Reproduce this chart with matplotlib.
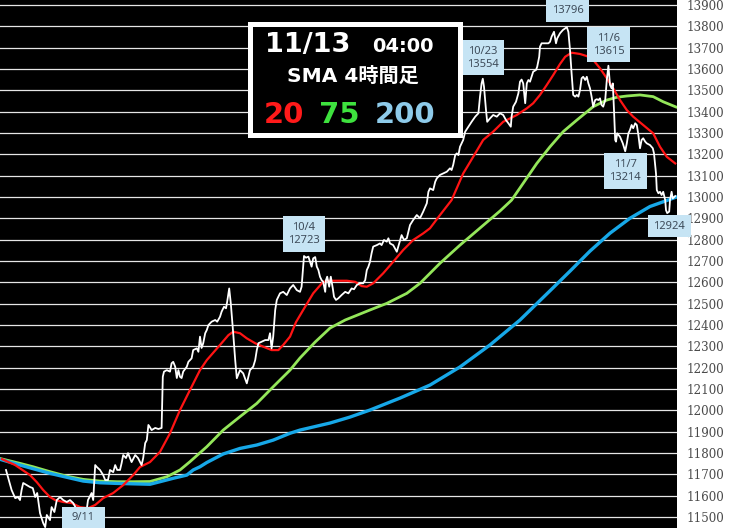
import matplotlib
matplotlib.use('Agg')
import matplotlib.pyplot as plt
from matplotlib.patches import Rectangle

# x = hours since the start of the window (4h bars), y = price
price_t = [15, 29, 38, 45, 50, 54, 58, 67, 75, 82,
           88, 93, 100, 108, 113, 117, 125, 129, 136, 142,
           150, 158, 167, 175, 183, 195, 208, 215, 220, 229,
           233, 238, 242, 250, 258, 263, 270, 275, 283, 288,
           293, 300, 304, 308, 315, 320, 329, 338, 345, 354,
           358, 363, 367, 371, 375, 379, 388, 396, 404, 407,
           410, 417, 425, 429, 433, 438, 442, 446, 450, 454,
           458, 467, 471, 479, 483, 492, 496, 500, 504, 508,
           513, 517, 521, 529, 538, 543, 550, 554, 560, 565,
           568, 573, 577, 583, 588, 592, 600, 608, 617, 625,
           633, 638, 642, 646, 654, 663, 671, 675, 679, 683,
           688, 692, 700, 708, 717, 725, 733, 742, 750, 754,
           760, 765, 771, 775, 779, 783, 788, 792, 796, 800,
           804, 808, 813, 815, 818, 823, 827, 832, 835, 840,
           846, 854, 863, 871, 879, 885, 892, 900, 908, 913,
           917, 921, 925, 929, 933, 942, 950, 954, 960, 967,
           971, 975, 983, 992, 998, 1004, 1010, 1017, 1025, 1033,
           1042, 1050, 1058, 1067, 1071, 1075, 1083, 1088, 1092, 1100,
           1108, 1117, 1125, 1129, 1133, 1138, 1142, 1146, 1150, 1158,
           1163, 1171, 1179, 1188, 1196, 1200, 1204, 1207, 1210, 1215,
           1218, 1225, 1233, 1242, 1250, 1258, 1265, 1271, 1277, 1279,
           1283, 1290, 1296, 1300, 1304, 1308, 1313, 1317, 1321, 1325,
           1329, 1333, 1340, 1343, 1348, 1350, 1354, 1363, 1371, 1375,
           1379, 1385, 1390, 1393, 1400, 1407, 1413, 1417, 1421, 1425,
           1429, 1433, 1438, 1442, 1446, 1450, 1454, 1458, 1463, 1467,
           1471, 1475, 1479, 1483, 1488, 1492, 1496, 1500, 1504, 1508,
           1513, 1517, 1521, 1525, 1529, 1532, 1535, 1538, 1540, 1543,
           1550, 1557, 1563, 1567, 1571, 1575, 1579, 1583, 1588, 1592,
           1596, 1600, 1604, 1608, 1613, 1617, 1625, 1632, 1635, 1640,
           1642, 1646, 1650, 1654, 1658, 1663, 1665, 1668, 1673, 1675,
           1679, 1682, 1688]
price_v = [11720, 11626, 11588, 11593, 11579, 11626, 11659, 11649, 11640, 11635,
           11593, 11612, 11518, 11471, 11452, 11509, 11485, 11546, 11523, 11579,
           11593, 11579, 11570, 11579, 11565, 11523, 11476, 11509, 11579, 11612,
           11579, 11743, 11734, 11720, 11696, 11673, 11673, 11720, 11710, 11743,
           11720, 11720, 11752, 11790, 11776, 11799, 11757, 11790, 11776, 11743,
           11776, 11846, 11860, 11931, 11920, 11907, 11917, 11912, 11917, 12157,
           12181, 12188, 12181, 12220, 12227, 12204, 12151, 12188, 12157, 12151,
           12181, 12204, 12227, 12243, 12282, 12290, 12274, 12345, 12292, 12314,
           12361, 12376, 12399, 12415, 12423, 12415, 12438, 12462, 12485, 12478,
           12509, 12571, 12501, 12361, 12235, 12150, 12188, 12173, 12126, 12188,
           12204, 12235, 12282, 12314, 12321, 12329, 12329, 12361, 12290, 12345,
           12470, 12517, 12548, 12555, 12540, 12571, 12587, 12563, 12555, 12579,
           12723, 12715, 12720, 12696, 12673, 12712, 12718, 12673, 12657, 12626,
           12610, 12602, 12555, 12610, 12626, 12579, 12626, 12571, 12532, 12517,
           12525, 12540, 12555, 12548, 12571, 12567, 12587, 12595, 12595, 12610,
           12657, 12673, 12696, 12736, 12767, 12774, 12782, 12774, 12798, 12790,
           12806, 12782, 12774, 12743, 12782, 12821, 12798, 12806, 12868, 12892,
           12915, 12900, 12931, 12970, 13024, 13040, 13032, 13071, 13087, 13103,
           13110, 13118, 13134, 13126, 13150, 13196, 13204, 13196, 13235, 13267,
           13306, 13329, 13352, 13376, 13392, 13470, 13532, 13554, 13517, 13407,
           13352, 13368, 13384, 13376, 13392, 13384, 13360, 13345, 13329, 13376,
           13423, 13446, 13486, 13540, 13550, 13532, 13439, 13532, 13548, 13540,
           13563, 13587, 13595, 13610, 13657, 13704, 13720, 13720, 13720, 13727,
           13751, 13774, 13720, 13743, 13767, 13782, 13790, 13796, 13773, 13689,
           13579, 13478, 13470, 13478, 13470, 13501, 13556, 13563, 13548, 13563,
           13532, 13509, 13470, 13423, 13454, 13458, 13454, 13462, 13431, 13423,
           13454, 13548, 13615, 13525, 13509, 13532, 13407, 13267, 13259, 13298,
           13282, 13251, 13214, 13251, 13298, 13314, 13337, 13322, 13345, 13337,
           13290, 13228, 13267, 13275, 13259, 13251, 13243, 13228, 13204, 13110,
           13032, 13017, 13024, 13009, 13024, 12985, 12938, 12924, 12931, 12985,
           13024, 12993, 13004]

sma20_t = [5, 38, 75, 92, 108, 125, 138, 158, 179, 200,
           220, 238, 258, 283, 308, 333, 350, 375, 400, 425,
           450, 475, 500, 517, 550, 571, 583, 600, 617, 638,
           658, 679, 696, 708, 725, 740, 758, 783, 808, 825,
           867, 888, 904, 917, 933, 958, 983, 1008, 1033, 1058,
           1075, 1100, 1129, 1158, 1183, 1208, 1233, 1258, 1292, 1317,
           1333, 1350, 1367, 1383, 1400, 1413, 1429, 1450, 1467, 1483,
           1500, 1517, 1533, 1550, 1567, 1583, 1608, 1633, 1650, 1667,
           1688]
sma20_v = [11771, 11743, 11696, 11663, 11626, 11593, 11579, 11570, 11565, 11546,
           11541, 11556, 11588, 11612, 11649, 11696, 11734, 11757, 11805, 11892,
           12001, 12095, 12188, 12235, 12306, 12352, 12368, 12361, 12337, 12314,
           12298, 12282, 12282, 12306, 12345, 12413, 12470, 12548, 12602, 12607,
           12607, 12602, 12582, 12579, 12595, 12642, 12696, 12751, 12798, 12829,
           12853, 12915, 12985, 13110, 13188, 13267, 13306, 13352, 13384, 13415,
           13439, 13478, 13525, 13571, 13623, 13657, 13676, 13670, 13660, 13642,
           13603, 13556, 13509, 13454, 13407, 13376, 13337, 13298, 13235, 13188,
           13157]

sma75_t = [0, 50, 83, 125, 167, 208, 250, 292, 333, 375,
           417, 450, 475, 517, 558, 600, 642, 683, 725, 750,
           788, 825, 863, 900, 925, 967, 1017, 1050, 1075, 1100,
           1150, 1200, 1250, 1279, 1308, 1342, 1375, 1408, 1442, 1483,
           1517, 1542, 1567, 1600, 1633, 1658, 1692]
sma75_v = [11774, 11751, 11735, 11712, 11691, 11676, 11668, 11665, 11665, 11666,
           11688, 11720, 11759, 11829, 11907, 11970, 12032, 12110, 12188, 12245,
           12320, 12385, 12423, 12451, 12470, 12501, 12548, 12595, 12642, 12689,
           12774, 12854, 12934, 12985, 13064, 13157, 13235, 13306, 13360, 13423,
           13454, 13467, 13473, 13478, 13470, 13446, 13420]

sma200_t = [0, 50, 125, 208, 250, 292, 375, 400, 433, 467,
            483, 500, 517, 558, 600, 642, 683, 725, 750, 825,
            875, 925, 1000, 1075, 1150, 1225, 1300, 1375, 1425, 1475,
            1525, 1575, 1625, 1692]
sma200_v = [11770, 11743, 11704, 11668, 11660, 11657, 11653, 11665, 11681, 11696,
            11720, 11735, 11755, 11795, 11821, 11837, 11860, 11892, 11907, 11940,
            11968, 12001, 12057, 12118, 12203, 12306, 12423, 12560, 12652, 12746,
            12830, 12900, 12955, 13000]

y_ticks = list(range(11500, 14000, 100))

ann_labels = ["9/11\n11476", "10/4\n12723", "10/23\n13554", "11/1\n13796",
              "11/6\n13615", "11/7\n13214", "12924"]
ann_t = [208, 760, 1207, 1417, 1521, 1563, 1668]
ann_v = [11476, 12723, 13554, 13796, 13615, 13214, 12924]
ann_off = [(0, -4), (0, 22), (0, 21), (1, 23), (0, 21), (0, -20), (2, -13)]
ann_ls = [1.65, 1.3, 1.3, 1.3, 1.3, 1.3, 1.3]

W, H = 735, 528
fig = plt.figure(figsize=(W / 100, H / 100), dpi=100)
fig.patch.set_facecolor('white')
ax = fig.add_axes([0, 0, 677 / W, 1])
ax.set_facecolor('black')

ax.plot(sma75_t, sma75_v, color='#94e65a', lw=2.0, zorder=3, solid_capstyle='round')
ax.plot(sma200_t, sma200_v, color='#17a8e8', lw=2.4, zorder=4, solid_capstyle='round')
ax.plot(sma20_t, sma20_v, color='#ff1414', lw=1.6, zorder=5)
ax.plot(price_t, price_v, color='white', lw=1.3, zorder=6)

ax.set_xlim(0, 1692.5)
ax.set_ylim(11448, 13923)
ax.set_yticks(y_ticks)
ax.set_xticks([])
ax.set_axisbelow(True)
ax.grid(axis='y', color='#e6e6e6', lw=0.9)
ax.yaxis.tick_right()
ax.tick_params(axis='y', length=0, pad=7)
for lab in ax.get_yticklabels():
    lab.set_fontfamily('DejaVu Serif')
    lab.set_fontsize(8.6)
    lab.set_color('#4a4a4a')
for s in ax.spines.values():
    s.set_visible(False)

for lbl, t, v, off, ls in zip(ann_labels, ann_t, ann_v, ann_off, ann_ls):
    ax.annotate(lbl, xy=(t, v), xytext=off, textcoords='offset pixels',
                ha='center', va='center', fontsize=8, color='#3d4b59',
                family='Noto Sans', linespacing=ls, zorder=20,
                annotation_clip=False,
                bbox=dict(boxstyle='square,pad=0.5', fc='#c6e4f4', ec='none'))

def fx(px):
    return px / W

def fy(py):
    return 1 - py / H

fam = ['DejaVu Sans', 'Noto Sans CJK JP']
fig.add_artist(Rectangle((fx(249.5), fy(134.5)), 210 / W, 110 / H,
                         transform=fig.transFigure, facecolor='black',
                         edgecolor='white', lw=3.6, zorder=10))
fig.text(fx(307.5), fy(52), '11/13', ha='center', va='baseline', fontsize=19.5,
         weight='bold', color='white', family=fam, zorder=11)
fig.text(fx(403), fy(52), '04:00', ha='center', va='baseline', fontsize=14,
         weight='bold', color='white', family=fam, zorder=11)
fig.text(fx(352.5), fy(82), 'SMA 4時間足', ha='center', va='baseline', fontsize=14.5,
         weight='bold', color='white', family=fam, zorder=11)
fig.text(fx(283.5), fy(123), '20', ha='center', va='baseline', fontsize=21,
         weight='bold', color='#ff1a1a', family=fam, zorder=11)
fig.text(fx(339), fy(123), '75', ha='center', va='baseline', fontsize=21,
         weight='bold', color='#3ee23e', family=fam, zorder=11)
fig.text(fx(405), fy(123), '200', ha='center', va='baseline', fontsize=21,
         weight='bold', color='#8ecbea', family=fam, zorder=11)

fig.savefig('out.png', dpi=100, facecolor='white')
